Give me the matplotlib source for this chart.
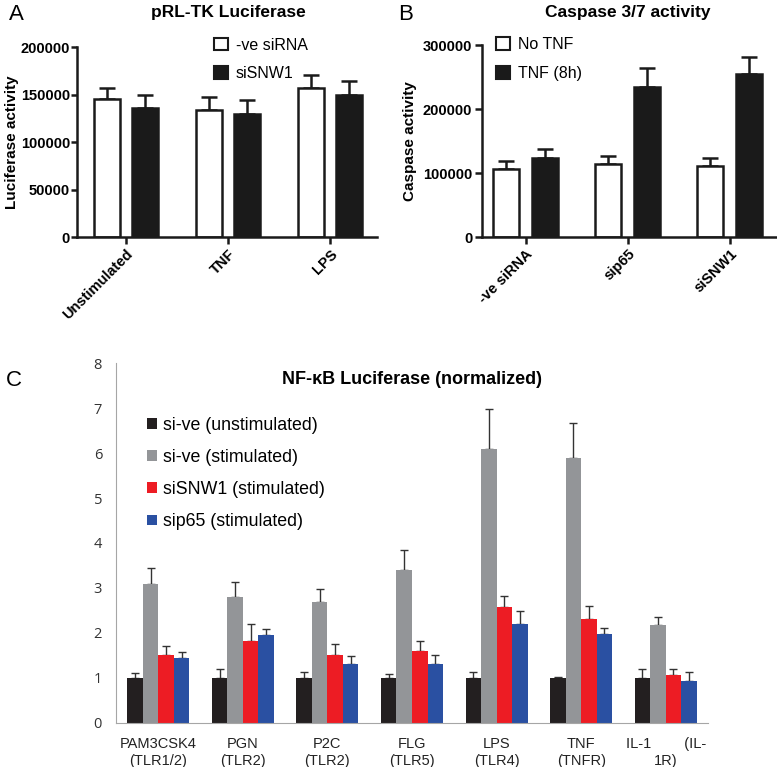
import numpy as np
import matplotlib.pyplot as plt
from matplotlib.patches import Patch

plt.rcParams['font.family'] = ['Liberation Sans', 'DejaVu Sans']

# panel A: pRL-TK luciferase
a_groups = ['Unstimulated', 'TNF', 'LPS']
a_neg = [145000, 134000, 156500]
a_neg_err = [12000, 13000, 14500]
a_snw = [136000, 129000, 149500]
a_snw_err = [14000, 15000, 15000]

# panel B: caspase 3/7
b_groups = ['-ve siRNA', 'sip65', 'siSNW1']
b_notnf = [106000, 114000, 111000]
b_notnf_err = [13000, 12000, 13000]
b_tnf = [124000, 234000, 254000]
b_tnf_err = [13500, 30000, 27000]

# panel C: NF-kB luciferase normalized
c_groups = ['PAM3CSK4\n(TLR1/2)', 'PGN\n(TLR2)', 'P2C\n(TLR2)', 'FLG\n(TLR5)',
            'LPS\n(TLR4)', 'TNF\n(TNFR)', 'IL-1        (IL-\n1R)']
c_unstim = [1, 1, 1, 1, 1, 1, 1]
c_unstim_err = [0.11, 0.21, 0.14, 0.08, 0.13, 0.03, 0.21]
c_stim = [3.09, 2.79, 2.69, 3.39, 6.09, 5.89, 2.18]
c_stim_err = [0.35, 0.34, 0.29, 0.46, 0.88, 0.78, 0.17]
c_snw = [1.51, 1.83, 1.52, 1.61, 2.57, 2.30, 1.07]
c_snw_err = [0.19, 0.38, 0.23, 0.22, 0.25, 0.29, 0.12]
c_p65 = [1.44, 1.95, 1.31, 1.31, 2.20, 1.97, 0.94]
c_p65_err = [0.13, 0.14, 0.17, 0.21, 0.29, 0.15, 0.20]
c_names = ['si-ve (unstimulated)', 'si-ve (stimulated)', 'siSNW1 (stimulated)', 'sip65 (stimulated)']
c_colors = ['#231f20', '#939598', '#ed1c24', '#2a50a2']

fig = plt.figure(figsize=(7.77, 7.67), dpi=100)


def prism_panel(ax, groups, v1, e1, v2, e2, ymax, ylabel, nticks):
    x = np.arange(len(groups))
    w = 0.255
    off = 0.19
    ax.bar(x - off, v1, w, color='white', edgecolor='#1a1a1a', linewidth=1.8, zorder=2)
    ax.bar(x + off, v2, w, color='#1a1a1a', edgecolor='#1a1a1a', linewidth=1.8, zorder=2)
    ax.errorbar(x - off, v1, yerr=[np.zeros(len(v1)), e1], fmt='none', ecolor='#1a1a1a',
                elinewidth=1.8, capsize=6, capthick=1.8, zorder=1)
    ax.errorbar(x + off, v2, yerr=[np.zeros(len(v2)), e2], fmt='none', ecolor='#1a1a1a',
                elinewidth=1.8, capsize=6, capthick=1.8, zorder=1)
    ax.set_ylim(0, ymax)
    ax.set_yticks(np.linspace(0, ymax, nticks))
    ax.set_xticks(x)
    ax.set_xticklabels(groups, rotation=45, ha='right', rotation_mode='anchor',
                       fontsize=10.5, fontweight='bold')
    for lab in ax.get_yticklabels():
        lab.set_fontweight('bold')
        lab.set_fontsize(10.5)
    ax.spines['top'].set_visible(False)
    ax.spines['right'].set_visible(False)
    for s in ['left', 'bottom']:
        ax.spines[s].set_linewidth(1.8)
        ax.spines[s].set_color('#1a1a1a')
    ax.tick_params(width=1.8, length=5, color='#1a1a1a', pad=2)
    ax.set_ylabel(ylabel, fontsize=11, fontweight='bold')
    handles = [Patch(facecolor='white', edgecolor='#1a1a1a', linewidth=1.5),
               Patch(facecolor='#1a1a1a', edgecolor='#1a1a1a', linewidth=1.5)]
    return handles


axA = fig.add_axes([0.0991, 0.691, 0.386, 0.2477])
h = prism_panel(axA, a_groups, a_neg, a_neg_err, a_snw, a_snw_err, 200000,
                'Luciferase activity', 5)
axA.set_xlim(-0.48, 2.46)
axA.tick_params(axis='y', length=4, pad=1)
axA.yaxis.set_label_coords(-0.195, 0.5)
axA.legend(h, ['-ve siRNA', 'siSNW1'], loc='upper left', bbox_to_anchor=(0.41, 1.125),
           frameon=False, fontsize=11.5, handlelength=0.85, handleheight=0.85,
           handletextpad=0.5, labelspacing=0.85)

axB = fig.add_axes([0.6203, 0.691, 0.378, 0.2503])
h = prism_panel(axB, b_groups, b_notnf, b_notnf_err, b_tnf, b_tnf_err, 300000,
                'Caspase activity', 4)
axB.set_xlim(-0.43, 2.45)
axB.yaxis.set_label_coords(-0.222, 0.5)
axB.legend(h, ['No TNF', 'TNF (8h)'], loc='upper left', bbox_to_anchor=(0.0, 1.115),
           frameon=False, fontsize=11.5, handlelength=0.85, handleheight=0.85,
           handletextpad=0.5, labelspacing=0.85)

fig.text(228 / 777, 1 - 13 / 767, 'pRL-TK Luciferase', ha='center', va='center',
         fontsize=12.5, fontweight='bold')
fig.text(628 / 777, 1 - 13 / 767, 'Caspase 3/7 activity', ha='center', va='center',
         fontsize=12.5, fontweight='bold')
fig.text(0.012, 1 - 14 / 767, 'A', fontsize=16, va='center', ha='left')
fig.text(0.513, 1 - 14 / 767, 'B', fontsize=16, va='center', ha='left')
fig.text(0.008, 1 - 380 / 767, 'C', fontsize=16, va='center', ha='left')

# panel C
axC = fig.add_axes([0.1493, 0.0574, 0.7619, 0.4693])
xc = np.arange(len(c_groups))
bw = 0.1835
series = [(c_unstim, c_unstim_err), (c_stim, c_stim_err), (c_snw, c_snw_err), (c_p65, c_p65_err)]
for i, (vals, errs) in enumerate(series):
    pos = xc + (i - 1.5) * bw
    axC.bar(pos, vals, bw, color=c_colors[i], label=c_names[i], zorder=2)
    axC.errorbar(pos, vals, yerr=[np.zeros(len(vals)), errs], fmt='none', ecolor='#333333',
                 elinewidth=1.0, capsize=3, capthick=1.0, zorder=1)
axC.set_xlim(-0.5, 6.5)
axC.set_ylim(0, 8)
axC.set_yticks(range(9))
axC.set_xticks(xc)
axC.set_xticklabels(c_groups, fontsize=10.5, color='#222222', linespacing=1.25)
for lab in axC.get_yticklabels():
    lab.set_family(['Open Sans', 'DejaVu Sans'])
    lab.set_fontsize(10.5)
    lab.set_color('#333333')
axC.tick_params(length=0, pad=10)
axC.tick_params(axis='x', pad=10)
axC.spines['top'].set_visible(False)
axC.spines['right'].set_visible(False)
axC.spines['left'].set_color('#a6a6a6')
axC.spines['bottom'].set_color('#a6a6a6')
axC.text(0.5, 0.955, 'NF-κB Luciferase (normalized)', transform=axC.transAxes,
         ha='center', va='center', fontsize=13, fontweight='bold')
axC.legend(loc='upper left', bbox_to_anchor=(0.026, 0.895), frameon=False, fontsize=12.8,
           handlelength=0.55, handleheight=0.55, handletextpad=0.3, labelspacing=0.85)

fig.savefig('out.png', dpi=100)
